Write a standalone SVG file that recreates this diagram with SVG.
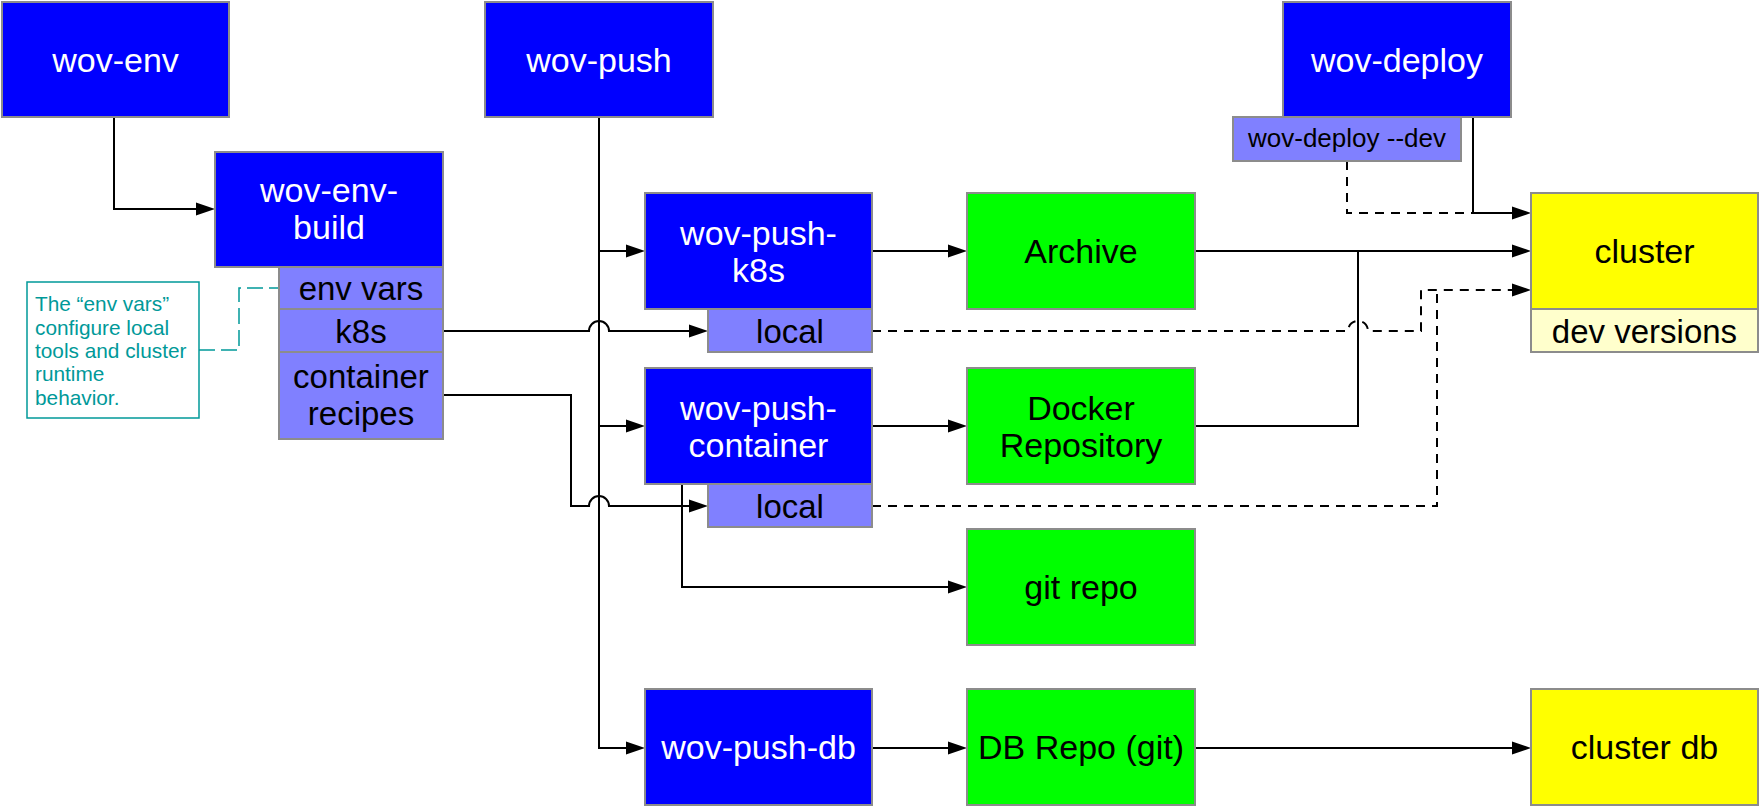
<svg xmlns="http://www.w3.org/2000/svg" width="1760" height="806" viewBox="0 0 1760 806">
<defs>
<style>
.box{stroke:#8c8c8c;stroke-width:2}
.blue{fill:#0000ff}
.sub{fill:#8080ff}
.green{fill:#00ff00}
.yellow{fill:#ffff00}
.ly{fill:#ffffcc}
text{font-family:"Liberation Sans",Arial,Helvetica,sans-serif;text-anchor:middle}
.w{fill:#ffffff;font-size:34px}
.b{fill:#000000;font-size:34px}
.s{fill:#000000;font-size:33px}
.c{fill:none;stroke:#000;stroke-width:2}
.d{fill:none;stroke:#000;stroke-width:2;stroke-dasharray:9 7}
.note{fill:#009999;font-size:20.8px;text-anchor:start}
</style>
<marker id="arr" markerUnits="userSpaceOnUse" markerWidth="20" markerHeight="14" refX="9" refY="7" orient="auto">
<path d="M0,0.5 L19,7 L0,13.5 z" fill="#000"/>
</marker>
</defs>
<rect width="1760" height="806" fill="#ffffff"/>

<g id="connectors">
<path class="c" d="M114,117 V209 H205" marker-end="url(#arr)"/>
<path class="c" d="M599,117 V748 H635" marker-end="url(#arr)"/>
<path class="c" d="M599,251 H635" marker-end="url(#arr)"/>
<path class="c" d="M599,426 H635" marker-end="url(#arr)"/>
<path class="c" d="M443,331 H589 A10,10 0 0 1 609,331 H698" marker-end="url(#arr)"/>
<path class="c" d="M443,395 H571 V506 H589 A10,10 0 0 1 609,506 H698" marker-end="url(#arr)"/>
<path class="c" d="M872,251 H957" marker-end="url(#arr)"/>
<path class="c" d="M1195,251 H1521" marker-end="url(#arr)"/>
<path class="c" d="M1195,426 H1358 V251"/>
<path class="c" d="M872,426 H957" marker-end="url(#arr)"/>
<path class="c" d="M682,484 V587 H957" marker-end="url(#arr)"/>
<path class="c" d="M872,748 H957" marker-end="url(#arr)"/>
<path class="c" d="M1195,748 H1521" marker-end="url(#arr)"/>
<path class="d" d="M1347,161 V213 H1473"/>
<path class="c" d="M1473,117 V213 H1521" marker-end="url(#arr)"/>
<path class="d" d="M872,331 H1348 A10,10 0 0 1 1368,331 H1421 V290 H1521" marker-end="url(#arr)"/>
<path class="d" d="M872,506 H1437 V290"/>
<path d="M199,350 H239 V288 H279" fill="none" stroke="#009999" stroke-width="1.5" stroke-dasharray="16 6"/>
</g>

<g id="wov-env">
<rect class="box blue" x="2" y="2" width="227" height="115"/>
<text class="w" x="115.5" y="72">wov-env</text>
</g>
<g id="wov-push">
<rect class="box blue" x="485" y="2" width="228" height="115"/>
<text class="w" x="599" y="72">wov-push</text>
</g>
<g id="wov-deploy">
<rect class="box blue" x="1283" y="2" width="228" height="115"/>
<text class="w" x="1397" y="72">wov-deploy</text>
</g>
<g id="wov-deploy-dev">
<rect class="box sub" x="1233" y="117" width="228" height="44"/>
<text x="1347" y="147" style="font-size:26px;fill:#000">wov-deploy --dev</text>
</g>
<g id="wov-env-build">
<rect class="box blue" x="215" y="152" width="228" height="115"/>
<text class="w" x="329" y="202">wov-env-</text>
<text class="w" x="329" y="239">build</text>
</g>
<g id="env-vars">
<rect class="box sub" x="279" y="267" width="164" height="42"/>
<text class="s" x="361" y="300">env vars</text>
</g>
<g id="k8s">
<rect class="box sub" x="279" y="309" width="164" height="43"/>
<text class="s" x="361" y="342.5">k8s</text>
</g>
<g id="container-recipes">
<rect class="box sub" x="279" y="352" width="164" height="87"/>
<text class="s" x="361" y="388">container</text>
<text class="s" x="361" y="425">recipes</text>
</g>
<g id="note">
<rect x="27" y="282" width="172" height="136" fill="#ffffff" stroke="#009999" stroke-width="1.5"/>
<text class="note" x="35" y="311">The “env vars”</text>
<text class="note" x="35" y="334.5">configure local</text>
<text class="note" x="35" y="358">tools and cluster</text>
<text class="note" x="35" y="381">runtime</text>
<text class="note" x="35" y="404.5">behavior.</text>
</g>
<g id="wov-push-k8s">
<rect class="box blue" x="645" y="193" width="227" height="116"/>
<text class="w" x="758.5" y="245">wov-push-</text>
<text class="w" x="758.5" y="282">k8s</text>
</g>
<g id="local-k8s">
<rect class="box sub" x="708" y="309" width="164" height="43"/>
<text class="s" x="790" y="343">local</text>
</g>
<g id="wov-push-container">
<rect class="box blue" x="645" y="368" width="227" height="116"/>
<text class="w" x="758.5" y="420">wov-push-</text>
<text class="w" x="758.5" y="457">container</text>
</g>
<g id="local-container">
<rect class="box sub" x="708" y="484" width="164" height="43"/>
<text class="s" x="790" y="518">local</text>
</g>
<g id="wov-push-db">
<rect class="box blue" x="645" y="689" width="227" height="116"/>
<text class="w" x="758.5" y="759">wov-push-db</text>
</g>
<g id="archive">
<rect class="box green" x="967" y="193" width="228" height="116"/>
<text class="b" x="1081" y="263">Archive</text>
</g>
<g id="docker-repository">
<rect class="box green" x="967" y="368" width="228" height="116"/>
<text class="b" x="1081" y="420">Docker</text>
<text class="b" x="1081" y="457">Repository</text>
</g>
<g id="git-repo">
<rect class="box green" x="967" y="529" width="228" height="116"/>
<text class="b" x="1081" y="599">git repo</text>
</g>
<g id="db-repo">
<rect class="box green" x="967" y="689" width="228" height="116"/>
<text class="b" x="1081" y="759">DB Repo (git)</text>
</g>
<g id="cluster">
<rect class="box yellow" x="1531" y="193" width="227" height="116"/>
<text class="b" x="1644.5" y="263">cluster</text>
</g>
<g id="dev-versions">
<rect class="box ly" x="1531" y="309" width="227" height="43"/>
<text class="s" x="1644.5" y="343">dev versions</text>
</g>
<g id="cluster-db">
<rect class="box yellow" x="1531" y="689" width="227" height="116"/>
<text class="b" x="1644.5" y="759">cluster db</text>
</g>
</svg>
